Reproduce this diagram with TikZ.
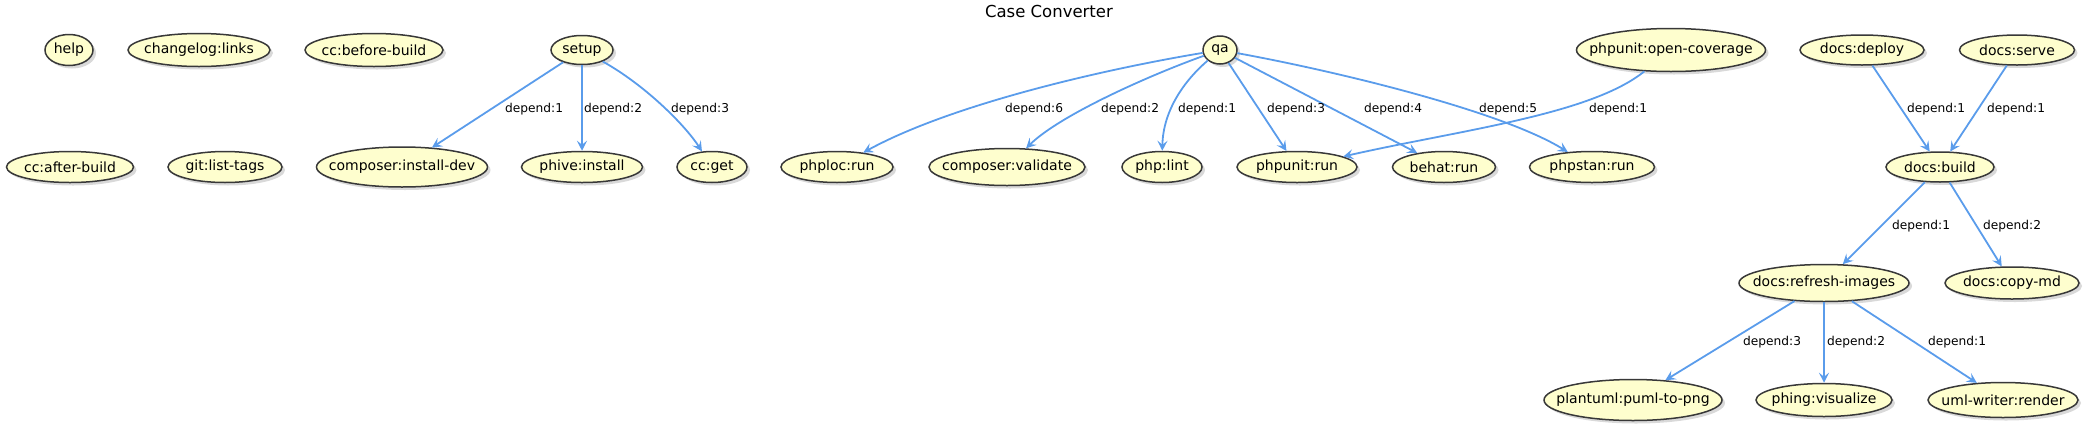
\documentclass[tikz,border=0pt]{standalone}
\usepackage{fontspec}
\setmainfont{DejaVu Sans}
\usetikzlibrary{shapes.geometric,arrows.meta,shadows}
\definecolor{taskfill}{HTML}{FEFECE}
\definecolor{taskline}{HTML}{383838}
\definecolor{deplink}{HTML}{5A9CEB}
\begin{document}
\begin{tikzpicture}[x=1pt,y=-1pt,
    task/.style={ellipse, draw=taskline, line width=1.5pt, fill=taskfill, inner sep=0pt,
        minimum height=31pt, font=\fontsize{14}{16}\selectfont,
        drop shadow={shadow xshift=3pt, shadow yshift=-3pt, opacity=0.3},
        execute at begin node={\hbox to 0pt\bgroup\hss}, execute at end node={\hss\egroup}},
    dep/.style={draw=deplink, line width=1.8pt, -{Stealth[length=10pt,width=10pt,inset=4pt]}},
    deplabel/.style={anchor=west, inner sep=0pt, font=\fontsize{12.2}{14}\selectfont}]
    \useasboundingbox (0,0) rectangle (2089,429);
    \node[font=\fontsize{16.5}{19}\selectfont] (title) at (1049,11) {Case Converter};

    \node[task, minimum width=48] (help) at (69,50) {help};
    \node[task, minimum width=142, minimum height=33] (changeloglinks) at (199,50) {changelog:links};
    \node[task, minimum width=138, minimum height=33] (ccbefore) at (374,50) {cc:before-build};
    \node[task, minimum width=62, minimum height=29] (setup) at (582,50) {setup};
    \node[task, minimum width=127] (ccafter) at (70,167) {cc:after-build};
    \node[task, minimum width=114] (gittags) at (225,167) {git:list-tags};
    \node[task, minimum width=171, minimum height=40] (composerdev) at (402,167) {composer:install-dev};
    \node[task, minimum width=121] (phive) at (582,167) {phive:install};
    \node[task, minimum width=70] (ccget) at (712,167) {cc:get};

    \node[task, minimum width=34, minimum height=28] (qa) at (1220,50) {qa};
    \node[task, minimum width=112] (phploc) at (837,167) {phploc:run};
    \node[task, minimum width=156, minimum height=37] (composervalidate) at (1007,167) {composer:validate};
    \node[task, minimum width=80] (phplint) at (1162,167) {php:lint};
    \node[task, minimum width=120] (phpunit) at (1297,167) {phpunit:run};
    \node[task, minimum width=103] (behat) at (1444,167) {behat:run};
    \node[task, minimum width=125] (phpstan) at (1592,167) {phpstan:run};
    \node[task, minimum width=189, minimum height=43] (opencoverage) at (1671,50) {phpunit:open-coverage};

    \node[task, minimum width=124, minimum height=30] (docsdeploy) at (1862,50) {docs:deploy};
    \node[task, minimum width=115, minimum height=30] (docsserve) at (2017,50) {docs:serve};
    \node[task, minimum width=108, minimum height=30] (docsbuild) at (1940,167) {docs:build};
    \node[task, minimum width=170, minimum height=37] (docsrefresh) at (1824,283) {docs:refresh-images};
    \node[task, minimum width=134, minimum height=32] (docscopy) at (2012,283) {docs:copy-md};
    \node[task, minimum width=178, minimum height=41] (plantuml) at (1633,400) {plantuml:puml-to-png};
    \node[task, minimum width=136, minimum height=33] (phing) at (1824,400) {phing:visualize};
    \node[task, minimum width=150, minimum height=35] (umlwriter) at (2003,400) {uml-writer:render};

    \draw[dep] (setup) -- (composerdev);
    \draw[dep] (setup) -- (phive);
    \draw[dep] (setup) .. controls (645,85) and (685,125) .. (ccget);
    \draw[dep] (qa) .. controls (1100,70) and (950,105) .. (phploc);
    \draw[dep] (qa) .. controls (1150,75) and (1060,115) .. (composervalidate);
    \draw[dep] (qa) .. controls (1185,80) and (1163,110) .. (phplint);
    \draw[dep] (qa) -- (phpunit);
    \draw[dep] (qa) -- (behat);
    \draw[dep] (qa) .. controls (1330,70) and (1500,110) .. (phpstan);
    \draw[dep] (opencoverage) .. controls (1590,115) and (1460,130) .. (phpunit);
    \draw[dep] (docsdeploy) -- (docsbuild);
    \draw[dep] (docsserve) -- (docsbuild);
    \draw[dep] (docsbuild) -- (docsrefresh);
    \draw[dep] (docsbuild) -- (docscopy);
    \draw[dep] (docsrefresh) -- (plantuml);
    \draw[dep] (docsrefresh) -- (phing);
    \draw[dep] (docsrefresh) -- (umlwriter);

    \node[deplabel] (setupdev) at (505,109) {depend:1};
    \node[deplabel] (setupphive) at (584,109) {depend:2};
    \node[deplabel] (setupget) at (671,109) {depend:3};
    \node[deplabel] (qaphploc) at (1005,109) {depend:6};
    \node[deplabel] (qavalidate) at (1101,109) {depend:2};
    \node[deplabel] (qalint) at (1178,109) {depend:1};
    \node[deplabel] (qaunit) at (1267,109) {depend:3};
    \node[deplabel] (qabehat) at (1364,109) {depend:4};
    \node[deplabel] (qastan) at (1479,109) {depend:5};
    \node[deplabel] (coverunit) at (1589,109) {depend:1};
    \node[deplabel] (deploybuild) at (1907,109) {depend:1};
    \node[deplabel] (servebuild) at (1987,109) {depend:1};
    \node[deplabel] (buildrefresh) at (1892,226) {depend:1};
    \node[deplabel] (buildcopy) at (1983,226) {depend:2};
    \node[deplabel] (refreshpuml) at (1743,342) {depend:3};
    \node[deplabel] (refreshphing) at (1827,342) {depend:2};
    \node[deplabel] (refreshuml) at (1928,342) {depend:1};
\end{tikzpicture}
\end{document}
